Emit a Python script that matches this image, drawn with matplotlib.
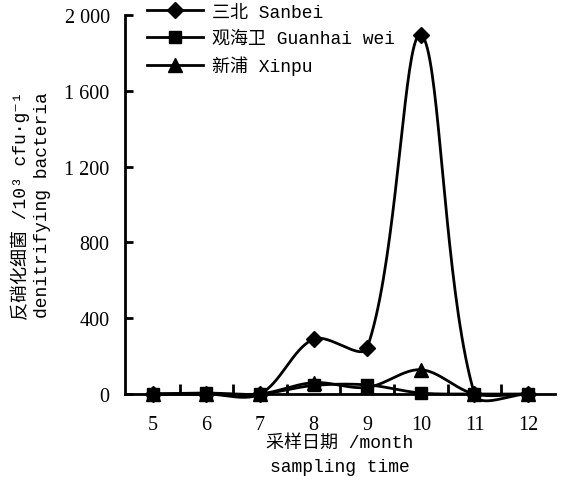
import numpy as np
import matplotlib
matplotlib.use("Agg")
import matplotlib.pyplot as plt

# data
months = [5, 6, 7, 8, 9, 10, 11, 12]
sanbei = [0, 0, 0, 290, 245, 1895, 0, 0]
guanhai = [0, 5, 0, 45, 48, 5, 0, 0]
xinpu = [0, 0, 0, 60, 35, 128, 0, 0]
y_ticks = [0, 400, 800, 1200, 1600, 2000]
y_tick_labels = ["0", "400", "800", "1 200", "1 600", "2 000"]

series = [
    ("三北 Sanbei", sanbei, "D", 8.5),
    ("观海卫 Guanhai wei", guanhai, "s", 8.5),
    ("新浦 Xinpu", xinpu, "^", 9.5),
]

label_font = ["Liberation Mono", "Noto Sans CJK SC", "DejaVu Sans"]


def smooth(ax, x, y, n=40):
    """Smoothed line through the points (Bezier, tangents weighted by
    segment length in screen space, like a spreadsheet 'smoothed line')."""
    pts = ax.transData.transform(np.column_stack([x, y]))
    m = len(pts)
    out = [pts[0]]
    t = np.linspace(0, 1, n)[1:, None]
    for i in range(m - 1):
        p1, p2 = pts[i], pts[i + 1]
        d12 = np.hypot(*(p2 - p1))
        if i > 0:
            p0 = pts[i - 1]
            d01 = np.hypot(*(p1 - p0))
            c1 = p1 + (p2 - p0) * d12 / (d01 + d12) / 3
        else:
            c1 = p1 + (p2 - p1) / 3
        if i + 2 < m:
            p3 = pts[i + 2]
            d23 = np.hypot(*(p3 - p2))
            c2 = p2 - (p3 - p1) * d12 / (d12 + d23) / 3
        else:
            c2 = p2 - (p2 - p1) / 3
        seg = ((1 - t) ** 3 * p1 + 3 * (1 - t) ** 2 * t * c1
               + 3 * (1 - t) * t ** 2 * c2 + t ** 3 * p2)
        out.extend(seg)
    data = ax.transData.inverted().transform(np.array(out))
    return data[:, 0], data[:, 1]


fig = plt.figure(figsize=(5.69, 4.81), dpi=100)
ax = fig.add_axes([0.2197, 0.1788, 0.7555, 0.7879])
ax.set_xlim(4.48, 12.5)
ax.set_ylim(0, 2000)

handles = []
for name, vals, mk, ms in series:
    sx, sy = smooth(ax, months, vals)
    ax.plot(sx, sy, color="black", lw=2, clip_on=False, zorder=3)
    ax.plot(months, vals, linestyle="none", marker=mk, ms=ms, color="black",
            clip_on=False, zorder=4)
    h, = ax.plot([], [], color="black", lw=2, marker=mk, ms=ms, label=name)
    handles.append(h)

ax.spines["top"].set_visible(False)
ax.spines["right"].set_visible(False)
ax.spines["left"].set_linewidth(2)
ax.spines["bottom"].set_linewidth(2)

ax.set_xticks(months)
ax.set_xticklabels([str(m) for m in months], fontfamily="Liberation Serif", fontsize=14.5)
ax.set_xticks(np.array(months[:-1]) + 0.5, minor=True)
ax.tick_params(axis="x", which="major", length=0, pad=15)
ax.tick_params(axis="x", which="minor", direction="in", length=7, width=2)
ax.set_yticks(y_ticks)
ax.set_yticklabels(y_tick_labels, fontfamily="Liberation Serif", fontsize=14.5)
ax.tick_params(axis="y", direction="in", length=6, width=2, pad=11)

ax.set_xlabel("采样日期 /month\nsampling time", family=label_font, fontsize=13,
              linespacing=1.55, labelpad=0)
ax.set_ylabel("反硝化细菌 /10³ cfu·g⁻¹\ndenitrifying bacteria",
              family=label_font, fontsize=13, linespacing=1.3, labelpad=10)

fig.legend(handles=handles, loc="upper left", bbox_to_anchor=(0.2583, 0.99),
           frameon=False, handlelength=3.1, labelspacing=0.5, borderpad=0,
           borderaxespad=0, prop={"family": label_font, "size": 13},
           handletextpad=0.5)

fig.savefig("out.png", dpi=100)
